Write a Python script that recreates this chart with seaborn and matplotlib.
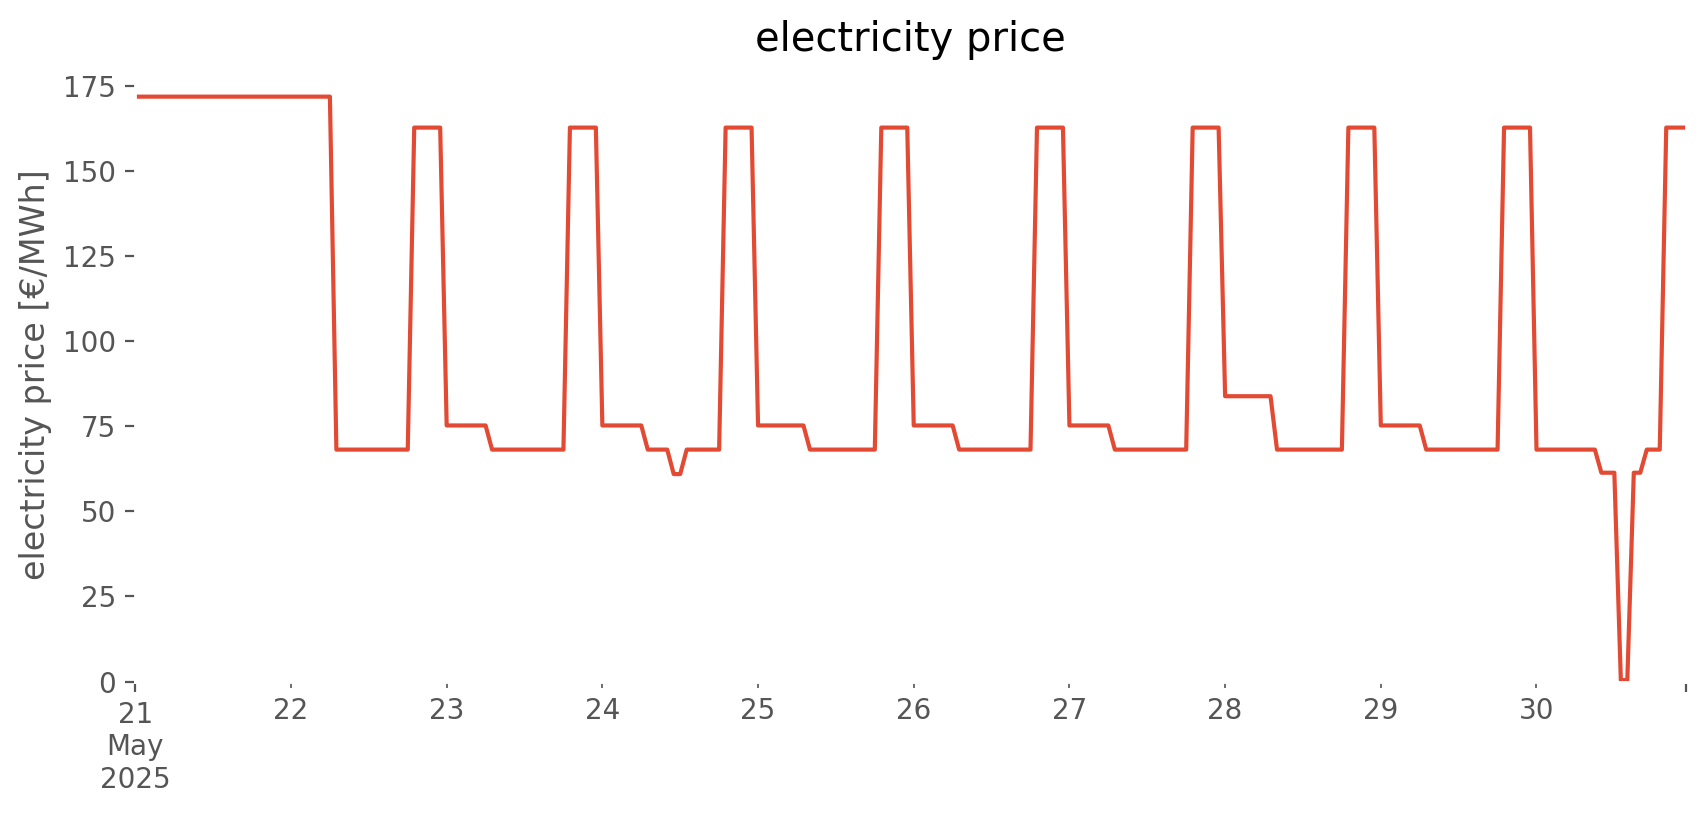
import pandas as pd
import seaborn as sns
import matplotlib.pyplot as plt
import matplotlib.dates as mdates
from matplotlib.ticker import FixedLocator, FixedFormatter

# hourly electricity price [EUR/MWh], one list per day
day_21 = [172.0] * 24
day_22 = [172.0] * 7 + [68.2] * 12 + [162.9] * 5
day_23 = [75.3] * 7 + [68.2] * 12 + [162.9] * 5
day_24 = [75.3] * 7 + [68.2] * 4 + [61.0] * 2 + [68.2] * 6 + [162.9] * 5
day_25 = [75.3] * 8 + [68.2] * 11 + [162.9] * 5
day_26 = [75.3] * 7 + [68.2] * 12 + [162.9] * 5
day_27 = [75.3] * 7 + [68.2] * 12 + [162.9] * 5
day_28 = [83.9] * 8 + [68.2] * 11 + [162.9] * 5
day_29 = [75.3] * 7 + [68.2] * 12 + [162.9] * 5
day_30 = [68.2] * 10 + [61.4] * 3 + [0.4] * 2 + [61.4] * 2 + [68.2] * 3 + [162.9] * 4

prices = (day_21 + day_22 + day_23 + day_24 + day_25
          + day_26 + day_27 + day_28 + day_29 + day_30)
times = pd.date_range("2025-05-21 00:00", periods=len(prices), freq="h")

day_ticks = pd.date_range("2025-05-22", "2025-05-30", freq="D")
day_labels = [str(d.day) for d in day_ticks]

df = pd.DataFrame({"time": times, "electricity price": prices})

if __name__ == "__main__":
    plt.style.use("ggplot")
    plt.rcParams["axes.facecolor"] = "white"
    plt.rcParams["axes.grid"] = False

    fig = plt.figure(figsize=(8.53, 4.075), dpi=200)
    ax = fig.add_axes([0.0793, 0.1638, 0.9088, 0.7535])

    sns.lineplot(data=df, x="time", y="electricity price", color="#E24A33",
                 linewidth=1.5, ax=ax)

    ax.set_xlim(times[0], times[-1])
    ax.set_ylim(0, max(prices) * 1.05)

    # pandas-like date ticks: first/last major, days minor
    ax.xaxis.set_major_locator(FixedLocator(
        [mdates.date2num(times[0]), mdates.date2num(times[-1])]))
    ax.xaxis.set_major_formatter(FixedFormatter(["21\nMay\n2025", ""]))
    ax.xaxis.set_minor_locator(FixedLocator(mdates.date2num(day_ticks)))
    ax.xaxis.set_minor_formatter(FixedFormatter(day_labels))
    ax.tick_params(axis="x", which="both", labelcolor="#555555", labelsize=10)

    ax.set_xlabel("")
    ax.set_ylabel("electricity price [€/MWh]")
    ax.set_title("electricity price")

    fig.savefig("out.png", dpi=200)
